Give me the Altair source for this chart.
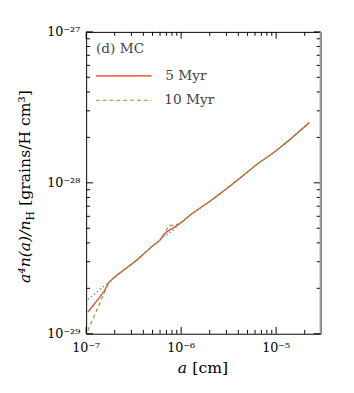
import altair as alt
import pandas as pd

# ---- data ----
a_5myr = [1.04e-7, 1.37e-7, 1.55e-7, 1.74e-7, 2.12e-7, 3.40e-7, 4.85e-7, 5.92e-7,
          6.93e-7, 7.80e-7, 9.49e-7, 1.30e-6, 1.93e-6, 2.87e-6, 4.27e-6, 6.31e-6,
          9.37e-6, 1.39e-5, 2.24e-5]
y_5myr = [1.39e-29, 1.73e-29, 1.92e-29, 2.20e-29, 2.45e-29, 3.07e-29, 3.75e-29, 4.14e-29,
          4.69e-29, 4.93e-29, 5.31e-29, 6.25e-29, 7.40e-29, 8.93e-29, 1.09e-28, 1.33e-28,
          1.58e-28, 1.93e-28, 2.51e-28]

a_10myr = [1.04e-7, 1.74e-7, 2.12e-7, 3.40e-7, 4.85e-7, 5.92e-7, 6.93e-7, 7.50e-7,
           8.13e-7, 9.89e-7, 1.30e-6, 1.93e-6, 2.87e-6, 4.27e-6, 6.31e-6, 9.37e-6,
           1.39e-5, 2.24e-5]
y_10myr = [1.045e-29, 2.20e-29, 2.45e-29, 3.07e-29, 3.75e-29, 4.14e-29, 4.81e-29, 5.22e-29,
           5.22e-29, 5.38e-29, 6.25e-29, 7.40e-29, 8.93e-29, 1.09e-28, 1.33e-28, 1.58e-28,
           1.93e-28, 2.51e-28]

a_init = [1.04e-7, 1.74e-7, 2.12e-7, 3.40e-7, 4.85e-7, 6.41e-7, 8.11e-7, 9.14e-7,
          1.30e-6, 1.93e-6, 2.87e-6, 4.27e-6, 6.31e-6, 9.37e-6, 1.39e-5, 2.24e-5]
y_init = [1.69e-29, 2.20e-29, 2.45e-29, 3.07e-29, 3.75e-29, 4.35e-29, 4.81e-29, 5.18e-29,
          6.25e-29, 7.40e-29, 8.93e-29, 1.09e-28, 1.33e-28, 1.58e-28, 1.93e-28, 2.51e-28]

legend_labels = ["5 Myr", "10 Myr"]
panel_label = "(d) MC"

x_domain = [1e-7, 2.94e-5]
y_domain = [1e-29, 1e-27]
x_major = [1e-7, 1e-6, 1e-5]
x_major_labels = ["10⁻⁷", "10⁻⁶", "10⁻⁵"]
x_minor = [m * d for d in (1e-7, 1e-6, 1e-5) for m in range(2, 10) if m * d < 2.94e-5]
y_major = [1e-29, 1e-28, 1e-27]
y_major_labels = ["10⁻²⁹", "10⁻²⁸", "10⁻²⁷"]
y_minor = [m * d for d in (1e-29, 1e-28) for m in range(2, 10)]

RED = "#f2311f"
GREEN = "#8a9f2c"
BLUE = "#4f86d6"
FONT = "DejaVu Serif"
W, H = 240, 309

df5 = pd.DataFrame({"a": a_5myr, "y": y_5myr})
df10 = pd.DataFrame({"a": a_10myr, "y": y_10myr})
dfi = pd.DataFrame({"a": a_init, "y": y_init})

xs = alt.Scale(type="log", domain=x_domain, nice=False)
ys = alt.Scale(type="log", domain=y_domain, nice=False)


def line(df, color, dash):
    mk = dict(color=color, strokeWidth=1.2)
    if dash:
        mk["strokeDash"] = dash
    return alt.Chart(df).mark_line(**mk).encode(
        x=alt.X("a:Q", scale=xs, axis=None),
        y=alt.Y("y:Q", scale=ys, axis=None),
    )


l_init = line(dfi, BLUE, [1.5, 2.5])
l_5 = line(df5, RED, None)
l_10 = line(df10, GREEN, [4, 3])


# x ticks: short vertical stroke symbols placed by the x scale on the frame edges
def xticks(vals, y_edge, length, up):
    shape = "M0,0L0,-2" if up else "M0,0L0,2"
    return alt.Chart(pd.DataFrame({"a": vals})).mark_point(
        shape=shape, size=length * length, filled=False, color="black",
        strokeWidth=1, opacity=1
    ).encode(x=alt.X("a:Q", scale=xs, axis=None), y=alt.value(y_edge))


def yticks(vals, x0, x1):
    return alt.Chart(pd.DataFrame({"y": vals})).mark_rule(color="black", strokeWidth=1).encode(
        y=alt.Y("y:Q", scale=ys, axis=None), x=alt.value(x0), x2=alt.value(x1))


ticks = [
    xticks(x_major, H, 7, True), xticks(x_minor, H, 4, True),
    xticks(x_major, 0, 7, False), xticks(x_minor, 0, 4, False),
    yticks(y_major, 0, 7), yticks(y_minor, 0, 4),
    yticks(y_major, W, W - 7), yticks(y_minor, W, W - 4),
]

# tick labels, placed by the scales
x_lab = alt.Chart(pd.DataFrame({"a": x_major, "t": x_major_labels})).mark_text(
    font=FONT, fontSize=13, color="black", align="center", baseline="top"
).encode(x=alt.X("a:Q", scale=xs, axis=None), y=alt.value(H + 9), text="t:N")
y_lab = alt.Chart(pd.DataFrame({"y": y_major, "t": y_major_labels})).mark_text(
    font=FONT, fontSize=13, color="black", align="right", baseline="middle"
).encode(y=alt.Y("y:Q", scale=ys, axis=None), x=alt.value(-6), text="t:N")

one = pd.DataFrame({"k": [0]})


def txt(text, x, y, size=16, style="normal", color="black", angle=0, align="left",
        baseline="alphabetic"):
    kw = dict(text=text, font=FONT, fontSize=size, fontStyle=style, color=color,
              align=align, baseline=baseline)
    if angle:
        kw["angle"] = angle
    return alt.Chart(one).mark_text(**kw).encode(x=alt.value(x), y=alt.value(y))


leg_red = alt.Chart(one).mark_rule(color=RED, strokeWidth=1.2).encode(
    x=alt.value(10), x2=alt.value(67), y=alt.value(45))
leg_green = alt.Chart(one).mark_rule(color=GREEN, strokeWidth=1.2, strokeDash=[4, 3]).encode(
    x=alt.value(10), x2=alt.value(67), y=alt.value(70))
right_edge = alt.Chart(one).mark_rule(color="#999999", strokeWidth=2).encode(
    x=alt.value(W), y=alt.value(0), y2=alt.value(H))

texts = [
    txt(panel_label, 10, 18, size=14, color="#444444", baseline="middle"),
    txt(legend_labels[0], 81, 45, size=14, color="#444444", baseline="middle"),
    txt(legend_labels[1], 80, 70, size=14, color="#444444", baseline="middle"),
    # x title
    txt("a", 93.7, 349, style="italic"),
    txt("[cm]", 108.7, 349),
    # y title (rotated)
    txt("a⁴n(a)/n", -57, 257, style="italic", angle=270),
    txt("H", -53, 193, size=11, angle=270),
    txt("[grains/H cm³]", -57, 178, angle=270),
]

chart = alt.layer(l_init, l_5, l_10, *ticks, x_lab, y_lab, leg_red, leg_green, right_edge,
                  *texts).properties(
    width=W, height=H,
    autosize=alt.AutoSizeParams(type="none"),
    padding={"left": 80, "top": 20, "right": 26, "bottom": 48},
).configure_view(stroke="black", strokeWidth=1)

chart.save("out.html", embed_options={"renderer": "svg", "actions": False})
